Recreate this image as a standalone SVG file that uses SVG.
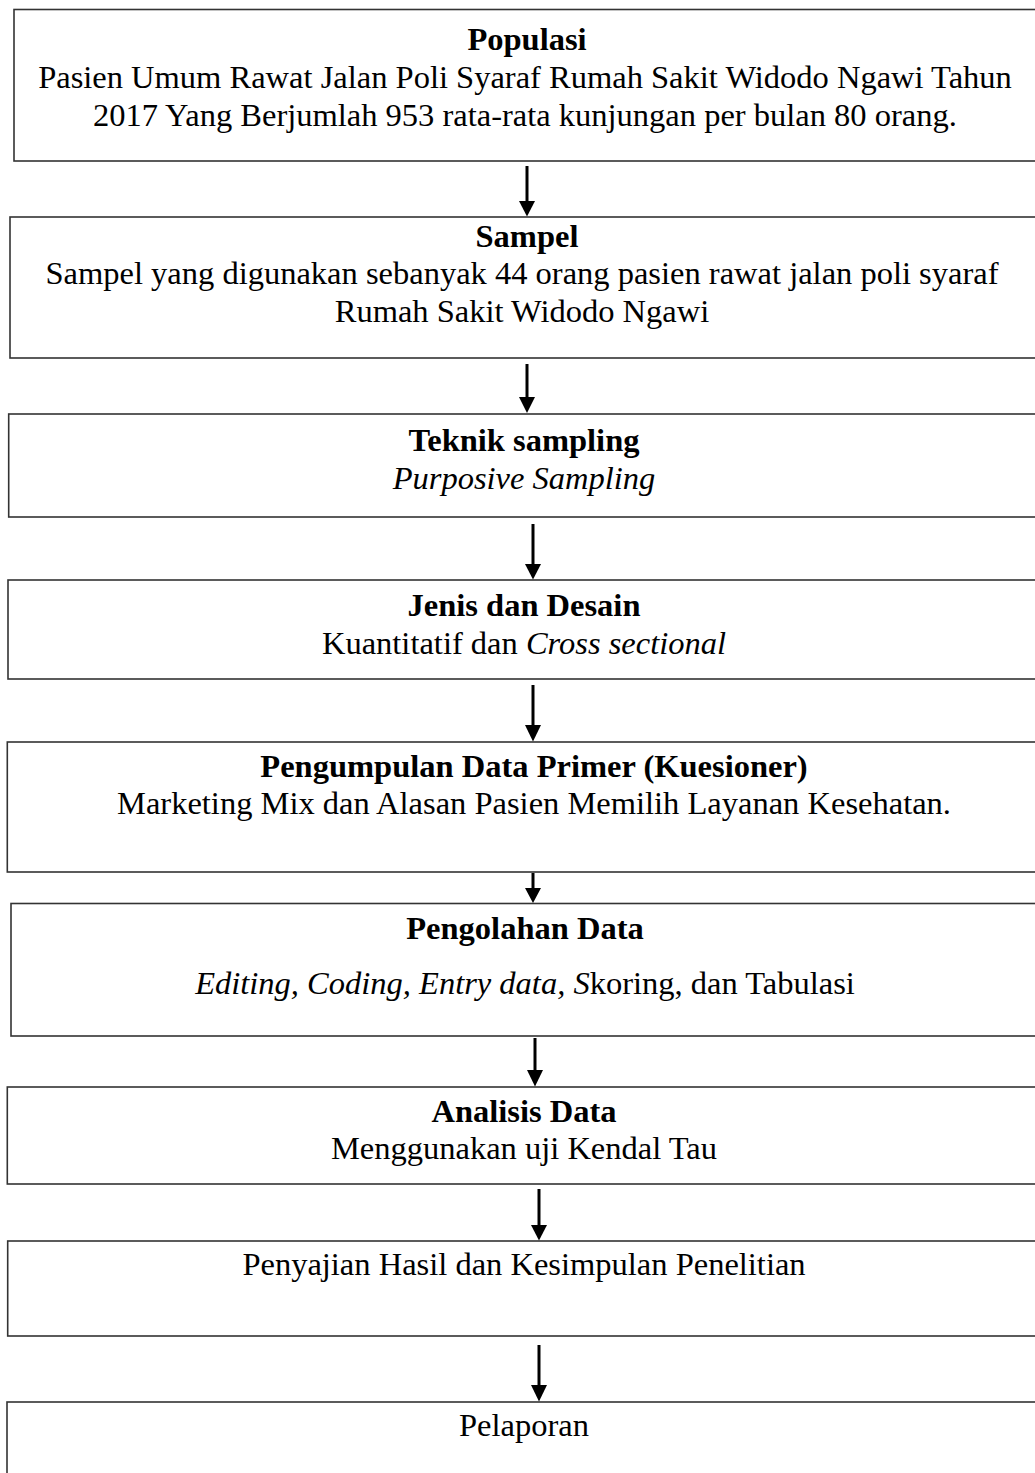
<svg xmlns="http://www.w3.org/2000/svg" width="1035" height="1473" viewBox="0 0 1035 1473">
<style>
.box{fill:#fff;stroke:#333;stroke-width:1.6}
.t{font-size:32.5px;fill:#000;text-anchor:middle}
.b{font-weight:bold}
.i{font-style:italic}
.arr{stroke:#000;stroke-width:3;fill:none}
.head{fill:#000}
</style>
<rect width="1035" height="1473" fill="#fff"/>
<g font-family="'Liberation Serif', Tinos, 'Times New Roman', Times, serif">
<g id="n1"><rect class="box" x="14" y="9.5" width="1040" height="151.5"/>
<text class="t b" x="527" y="50">Populasi</text>
<text class="t" x="525" y="88">Pasien Umum Rawat Jalan Poli Syaraf Rumah Sakit Widodo Ngawi Tahun</text>
<text class="t" x="525" y="126">2017 Yang Berjumlah 953 rata-rata kunjungan per bulan 80 orang.</text></g>
<g id="n2"><rect class="box" x="10" y="217" width="1040" height="141"/>
<text class="t b" x="527" y="247">Sampel</text>
<text class="t" x="522" y="284">Sampel yang digunakan sebanyak 44 orang pasien rawat jalan poli syaraf</text>
<text class="t" x="522" y="322">Rumah Sakit Widodo Ngawi</text></g>
<g id="n3"><rect class="box" x="8.7" y="414" width="1040" height="103"/>
<text class="t b" x="524" y="451">Teknik sampling</text>
<text class="t i" x="524" y="489">Purposive Sampling</text></g>
<g id="n4"><rect class="box" x="8" y="580" width="1040" height="99"/>
<text class="t b" x="524" y="616">Jenis dan Desain</text>
<text class="t" x="524" y="654">Kuantitatif dan <tspan class="i">Cross sectional</tspan></text></g>
<g id="n5"><rect class="box" x="7.3" y="742" width="1040" height="130"/>
<text class="t b" x="534" y="777">Pengumpulan Data Primer (Kuesioner)</text>
<text class="t" x="534" y="814">Marketing Mix dan Alasan Pasien Memilih Layanan Kesehatan.</text></g>
<g id="n6"><rect class="box" x="11" y="903.5" width="1040" height="132.5"/>
<text class="t b" x="525" y="939">Pengolahan Data</text>
<text class="t" x="525" y="994"><tspan class="i">Editing, Coding, Entry data, S</tspan>koring, dan Tabulasi</text></g>
<g id="n7"><rect class="box" x="7.3" y="1087" width="1040" height="97"/>
<text class="t b" x="524" y="1122">Analisis Data</text>
<text class="t" x="524" y="1159">Menggunakan uji Kendal Tau</text></g>
<g id="n8"><rect class="box" x="7.7" y="1241" width="1040" height="95"/>
<text class="t" x="524" y="1275">Penyajian Hasil dan Kesimpulan Penelitian</text></g>
<g id="n9"><rect class="box" x="7" y="1402" width="1040" height="100"/>
<text class="t" x="524" y="1436">Pelaporan</text></g>
</g>
<g id="connectors">
<line class="arr" x1="527" y1="166" x2="527" y2="203"/><polygon class="head" points="519,201 535,201 527,216.5"/>
<line class="arr" x1="527" y1="364" x2="527" y2="399"/><polygon class="head" points="519,397 535,397 527,413"/>
<line class="arr" x1="533" y1="524" x2="533" y2="566"/><polygon class="head" points="525,564 541,564 533,579.5"/>
<line class="arr" x1="533" y1="685" x2="533" y2="727"/><polygon class="head" points="525,725 541,725 533,741.5"/>
<line class="arr" x1="533" y1="873" x2="533" y2="890"/><polygon class="head" points="525,888 541,888 533,903"/>
<line class="arr" x1="535" y1="1038" x2="535" y2="1072"/><polygon class="head" points="527,1070 543,1070 535,1086.5"/>
<line class="arr" x1="539" y1="1189" x2="539" y2="1227"/><polygon class="head" points="531,1225 547,1225 539,1240.5"/>
<line class="arr" x1="539" y1="1345" x2="539" y2="1387"/><polygon class="head" points="531,1385 547,1385 539,1401.5"/>
</g>
</svg>
